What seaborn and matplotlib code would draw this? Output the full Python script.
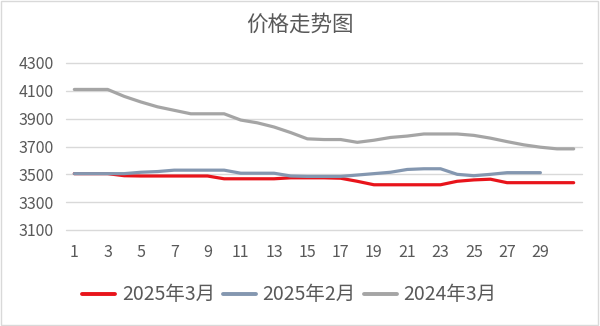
import numpy as np
import pandas as pd
import matplotlib
matplotlib.use("Agg")
import matplotlib.pyplot as plt
import seaborn as sns
from matplotlib.patches import Rectangle

days_mar = list(range(1, 32))
days_feb = list(range(1, 30))
price_2025_03 = [3505, 3505, 3505, 3490, 3488, 3488, 3488, 3488, 3488, 3468,
                 3468, 3468, 3468, 3475, 3475, 3475, 3472, 3450, 3425, 3425,
                 3425, 3425, 3425, 3450, 3460, 3465, 3440, 3440, 3440, 3440, 3440]
price_2025_02 = [3505, 3505, 3505, 3505, 3515, 3520, 3530, 3530, 3530, 3530,
                 3508, 3508, 3508, 3488, 3485, 3485, 3485, 3495, 3505, 3515,
                 3535, 3540, 3540, 3500, 3490, 3500, 3512, 3512, 3512]
price_2024_03 = [4110, 4110, 4110, 4060, 4020, 3985, 3960, 3935, 3935, 3935,
                 3890, 3870, 3840, 3800, 3755, 3750, 3750, 3730, 3745, 3765,
                 3775, 3790, 3790, 3790, 3780, 3760, 3735, 3712, 3695, 3683, 3683]
series_names = ["2025年3月", "2025年2月", "2024年3月"]
series_colors = ["#E8141B", "#8497B0", "#A5A5A5"]
x_ticks = list(range(1, 30, 2))
y_ticks = [3100, 3300, 3500, 3700, 3900, 4100, 4300]
title = "价格走势图"

df = pd.concat([
    pd.DataFrame({"day": days_mar, "price": price_2025_03, "series": series_names[0]}),
    pd.DataFrame({"day": days_feb, "price": price_2025_02, "series": series_names[1]}),
    pd.DataFrame({"day": days_mar, "price": price_2024_03, "series": series_names[2]}),
])

sns.set_style("white")
plt.rcParams["font.family"] = ["Noto Sans CJK SC", "DejaVu Sans"]

fig = plt.figure(figsize=(6.0, 3.26), dpi=100)
ax = fig.add_axes([66 / 600, 1 - 230 / 326, 516 / 600, 167 / 326])

sns.lineplot(data=df, x="day", y="price", hue="series", hue_order=series_names,
             palette=series_colors, linewidth=2.3, ax=ax, legend=False)

ax.set_xlim(0.5, 31.5)
ax.set_ylim(3100, 4300)
ax.set_xticks(x_ticks)
ax.set_yticks(y_ticks)
ax.set_xlabel("")
ax.set_ylabel("")
for s in ax.spines.values():
    s.set_visible(False)
ax.grid(axis="y", color="#D9D9D9", linewidth=1.0)
ax.set_axisbelow(True)
for gl in ax.get_ygridlines():
    gl.set_clip_on(False)
ax.tick_params(axis="both", length=0, labelsize=11.5, labelcolor="#595959")
ax.tick_params(axis="y", pad=9)
ax.tick_params(axis="x", pad=10)

fig.text(0.5, 1 - 25 / 326, title, ha="center", va="center", fontsize=15.5, color="#595959")

handles = [plt.Line2D([], [], color=c, linewidth=2.8) for c in series_colors]
fig.legend(handles, series_names, loc="center", bbox_to_anchor=(0.482, 1 - 295 / 326),
           ncol=3, frameon=False, fontsize=14, labelcolor="#595959",
           handlelength=1.7, handletextpad=0.35, columnspacing=0.4)

fig.patches.append(Rectangle((0.002, 0.003), 0.995, 0.994, transform=fig.transFigure,
                             fill=False, edgecolor="#D9D9D9", linewidth=1.0))

fig.savefig("out.png", dpi=100)
